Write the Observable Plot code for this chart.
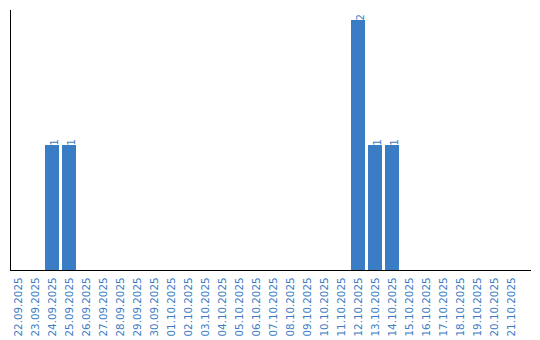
<!DOCTYPE html>
<html>
<head>
<meta charset="utf-8">
<script src="https://cdn.jsdelivr.net/npm/d3@7"></script>
<script src="https://cdn.jsdelivr.net/npm/@observablehq/plot@0.6"></script>
<style>
  html, body { margin: 0; padding: 0; background: #fff; }
</style>
</head>
<body>
<div id="chart"></div>
<script>
const dates = ["22.09.2025","23.09.2025","24.09.2025","25.09.2025","26.09.2025","27.09.2025","28.09.2025","29.09.2025","30.09.2025","01.10.2025","02.10.2025","03.10.2025","04.10.2025","05.10.2025","06.10.2025","07.10.2025","08.10.2025","09.10.2025","10.10.2025","11.10.2025","12.10.2025","13.10.2025","14.10.2025","15.10.2025","16.10.2025","17.10.2025","18.10.2025","19.10.2025","20.10.2025","21.10.2025"];
const counts = [0,0,1,1,0,0,0,0,0,0,0,0,0,0,0,0,0,0,0,0,2,1,1,0,0,0,0,0,0,0];

const data = dates.map((d, i) => ({date: d, count: counts[i]}));
const nonZero = data.filter(d => d.count > 0);
const blue = "#3b7dc4";
const font = "DejaVu Sans";

const chart = Plot.plot({
  width: 540,
  height: 340,
  marginTop: 10,
  marginBottom: 70,
  marginLeft: 10,
  marginRight: 9,
  style: {fontFamily: font, fontSize: "10px", background: "#fff"},
  x: {type: "band", domain: dates, range: [11, 518], paddingInner: 3/17, paddingOuter: 0, axis: null, label: null},
  y: {domain: [0, 2.08], axis: null},
  marks: [
    Plot.barY(nonZero, {x: "date", y: "count", fill: blue}),
    Plot.text(nonZero, {x: "date", y: "count", text: d => String(d.count), rotate: -90, textAnchor: "start", dx: 2, fill: blue, fontSize: 10, fontFamily: font}),
    Plot.axisX({domain: dates, tickRotate: -90, tickSize: 0, tickPadding: 7, color: blue, fontSize: 10.3, fontFamily: font, label: null}),
    Plot.frame({anchor: "left", stroke: "#000"}),
    Plot.ruleY([0], {stroke: "#000", strokeWidth: 1.2})
  ]
});
document.getElementById("chart").appendChild(chart);
</script>
</body>
</html>
